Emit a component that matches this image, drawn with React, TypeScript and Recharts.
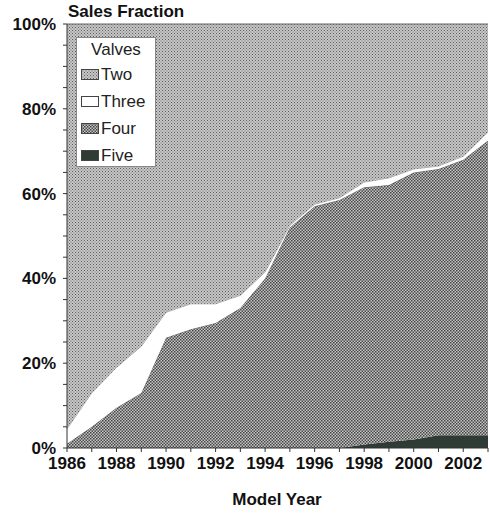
import React from 'react';
import { AreaChart, Area, XAxis, YAxis, Legend } from 'recharts';

const years = [1986, 1987, 1988, 1989, 1990, 1991, 1992, 1993, 1994, 1995, 1996, 1997, 1998, 1999, 2000, 2001, 2002, 2003];
const five = [0, 0, 0, 0, 0, 0, 0, 0, 0, 0, 0, 0, 0.8, 1.5, 2, 3, 3, 3];
const four = [1, 5, 9.5, 13, 26, 28, 29.5, 33, 40, 52, 57, 58.5, 60.7, 60.5, 63, 62.8, 65, 69.5];
const three = [3.5, 8, 9.5, 11, 6, 6, 4.5, 3, 1.5, 0.5, 0.5, 0.5, 1.2, 1.7, 0.8, 0.7, 0.8, 2];
const two = [95.5, 87, 81, 76, 68, 66, 66, 64, 58.5, 47.5, 42.5, 41, 37.3, 36.3, 34.2, 33.5, 31.2, 25.5];

const xTicks = years;
const yTicks = [0, 5, 10, 15, 20, 25, 30, 35, 40, 45, 50, 55, 60, 65, 70, 75, 80, 85, 90, 95, 100];
const legendTitle = 'Valves';
const seriesNames = ['Two', 'Three', 'Four', 'Five'];

const data = years.map((y, i) => ({ year: y, Five: five[i], Four: four[i], Three: three[i], Two: two[i] }));

const FONT = '"Liberation Sans", Arial, sans-serif';

const fills: Record<string, string> = {
  Two: 'url(#patTwo)',
  Three: '#ffffff',
  Four: 'url(#patFour)',
  Five: '#2f3b35',
};

const LegendBox = () => (
  <div style={{
    width: 80, height: 130, border: '1px solid #888', background: '#fff', boxSizing: 'border-box',
    fontFamily: FONT, fontSize: 17, color: '#222', padding: '1px 0 0 4px'
  }}>
    <div style={{ textAlign: 'center', lineHeight: '22px', marginLeft: -4 }}>{legendTitle}</div>
    {seriesNames.map((n) => (
      <div key={n} style={{ display: 'flex', alignItems: 'center', height: 27 }}>
        <svg width={18} height={11} style={{ marginRight: 2 }}>
          <rect x={0.5} y={0.5} width={17} height={10} fill={fills[n]} stroke="#444" strokeWidth={1} />
        </svg>
        <span>{n}</span>
      </div>
    ))}
  </div>
);

export default function App() {
  return (
    <div style={{ position: 'absolute', left: 0, top: 0, width: 490, height: 514, background: '#fff' }}>
      <AreaChart width={490} height={514} data={data} margin={{ top: 24, right: 2, bottom: 36, left: 7 }}>
        <defs>
          <pattern id="patTwo" width="3" height="3" patternUnits="userSpaceOnUse">
            <rect width="3" height="3" fill="#c6c6c6" />
            <rect x="0" y="0" width="1" height="1" fill="#5e5e5e" />
            <rect x="1.5" y="1.5" width="1" height="1" fill="#707070" />
          </pattern>
          <pattern id="patFour" width="3" height="3" patternUnits="userSpaceOnUse">
            <rect width="3" height="3" fill="#c4c4c4" />
            <rect x="0" y="0" width="1.5" height="1.5" fill="#444" />
            <rect x="1.5" y="1.5" width="1.5" height="1.5" fill="#4c4c4c" />
          </pattern>
        </defs>
        <XAxis
          dataKey="year"
          type="number"
          domain={[1986, 2003]}
          ticks={xTicks}
          interval={0}
          tickFormatter={(v: number) => (v % 2 === 0 ? String(v) : '')}
          tick={{ fontFamily: FONT, fontSize: 17, fontWeight: 'bold', fill: '#111' }}
          tickSize={4}
          tickMargin={5}
          axisLine={{ stroke: '#333' }}
          tickLine={{ stroke: '#333' }}
          height={30}
        />
        <YAxis
          type="number"
          domain={[0, 100]}
          ticks={yTicks}
          interval={0}
          tickFormatter={(v: number) => (v % 20 === 0 ? v + '%' : '')}
          tick={{ fontFamily: FONT, fontSize: 17, fontWeight: 'bold', fill: '#111' }}
          tickSize={4}
          tickMargin={7}
          axisLine={{ stroke: '#333' }}
          tickLine={{ stroke: '#333' }}
          width={60}
        />
        <Legend
          layout="vertical"
          align="center"
          verticalAlign="middle"
          content={() => <LegendBox />}
          wrapperStyle={{ position: 'absolute', left: 76, top: 37, width: 80, height: 130, margin: 0 }}
        />
        <Area type="linear" dataKey="Five" stackId="a" fill={fills.Five} fillOpacity={1} stroke="none" isAnimationActive={false} />
        <Area type="linear" dataKey="Four" stackId="a" fill={fills.Four} fillOpacity={1} stroke="#555" strokeWidth={0.8} isAnimationActive={false} />
        <Area type="linear" dataKey="Three" stackId="a" fill={fills.Three} fillOpacity={1} stroke="#777" strokeWidth={0.6} isAnimationActive={false} />
        <Area type="linear" dataKey="Two" stackId="a" fill={fills.Two} fillOpacity={1} stroke="#666" strokeWidth={1} isAnimationActive={false} />
      </AreaChart>
      <div style={{ position: 'absolute', left: 68, top: 1, fontFamily: FONT, fontSize: 17, fontWeight: 'bold', color: '#111', lineHeight: '22px' }}>Sales Fraction</div>
      <div style={{ position: 'absolute', left: 0, width: 554, top: 489, textAlign: 'center', fontFamily: FONT, fontSize: 17, fontWeight: 'bold', color: '#111', lineHeight: '22px' }}>Model Year</div>
    </div>
  );
}
